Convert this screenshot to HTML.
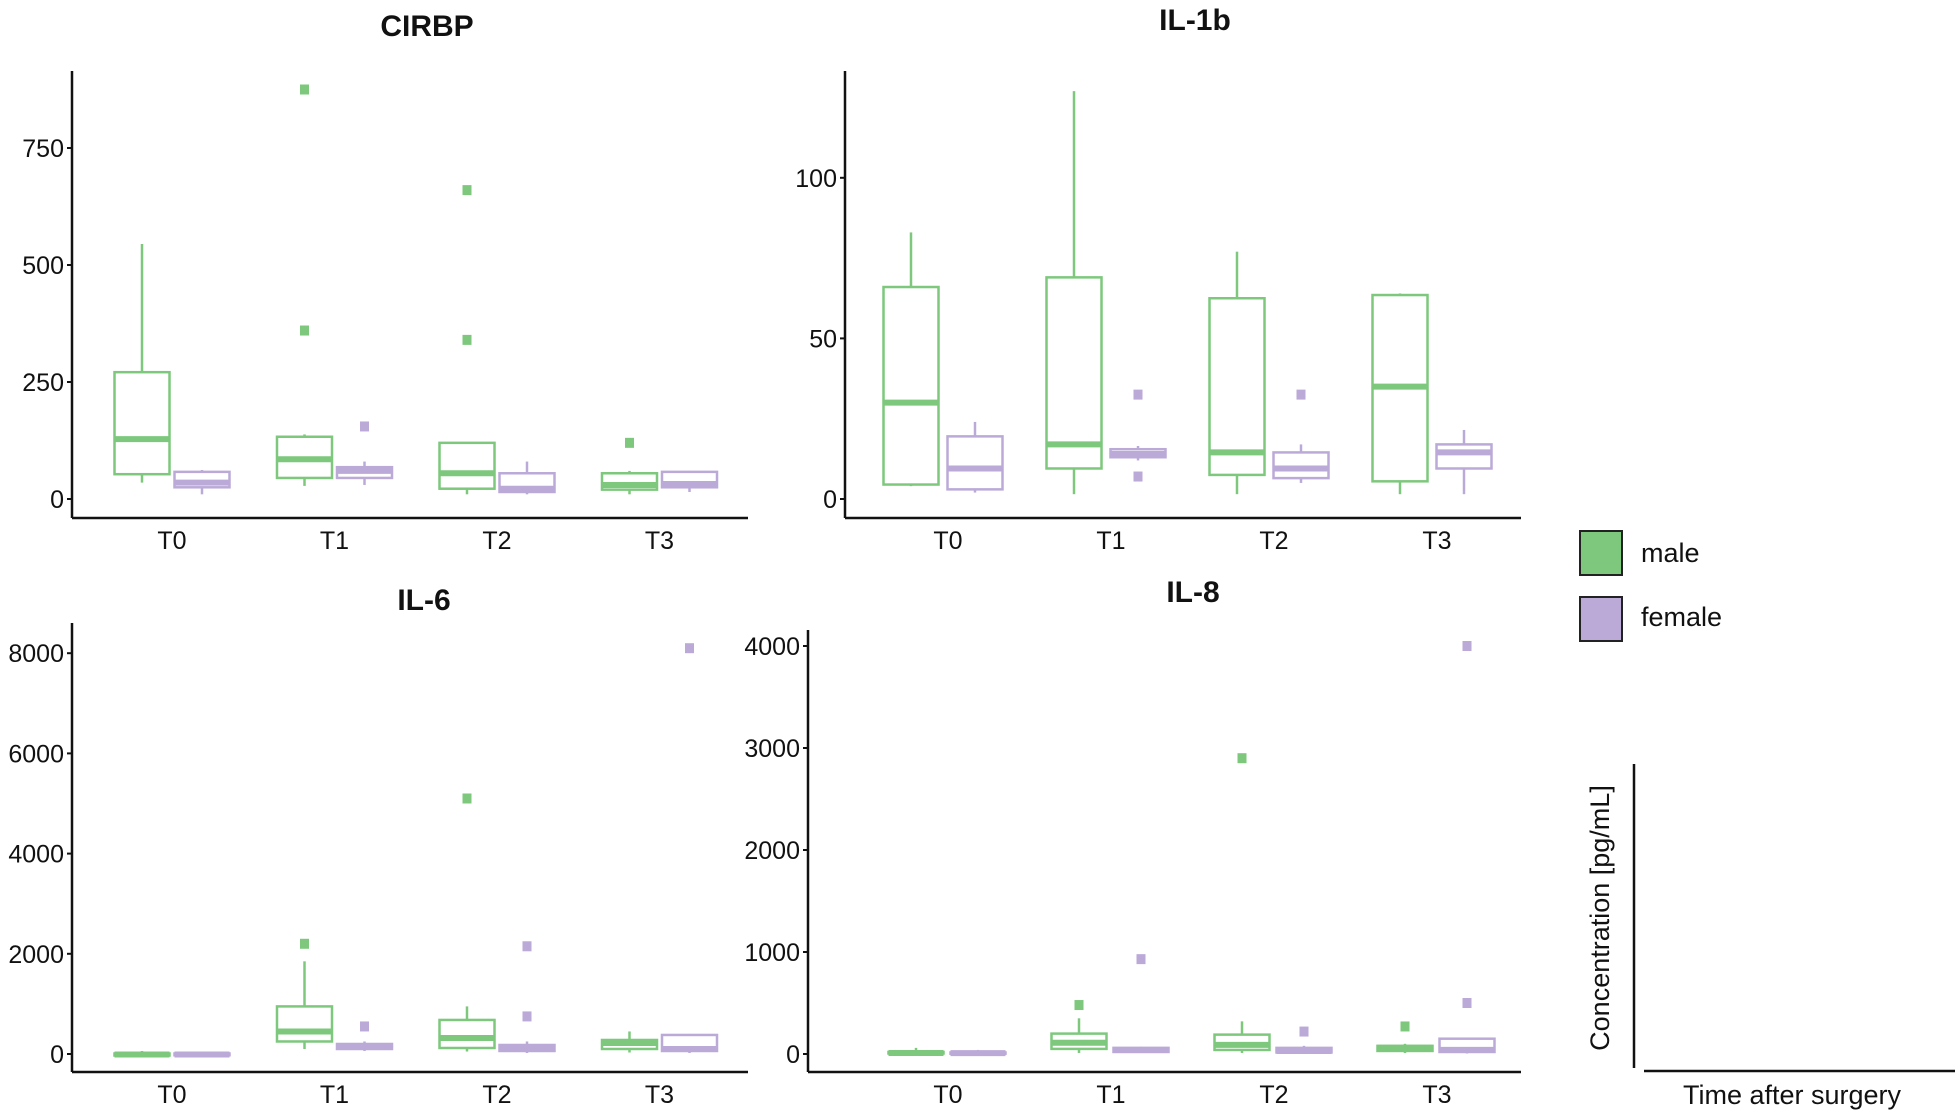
<!DOCTYPE html>
<html><head><meta charset="utf-8">
<style>
html,body{margin:0;padding:0;background:#fff;}
svg{display:block;font-family:"Liberation Sans",Arial,sans-serif;}
</style></head>
<body>
<svg id="fig" width="1955" height="1115" viewBox="0 0 1955 1115" xmlns="http://www.w3.org/2000/svg"></svg>
<script>
const categories = ["T0","T1","T2","T3"];
const groups = ["male","female"];
// [low whisker, q1, median, q3, high whisker]
const cirbpMale = [[35,53,128,271,545],[28,45,85,133,138],[10,22,55,120,120],[10,20,30,55,60]];
const cirbpFemale = [[10,25,35,58,62],[30,45,60,68,80],[10,15,22,55,80],[15,25,32,58,60]];
const cirbpMaleOut = [[],[360,875],[340,660],[120]];
const cirbpFemaleOut = [[],[155],[],[]];
const cirbpTicks = [0,250,500,750];

const il1bMale = [[4,4.5,30,66,83],[1.5,9.5,17,69,127],[1.5,7.5,14.5,62.5,77],[1.5,5.5,35,63.5,64]];
const il1bFemale = [[2,3,9.5,19.5,24],[12,13,14,15.5,16.5],[5,6.5,9.5,14.5,17],[1.5,9.5,14.5,17,21.5]];
const il1bMaleOut = [[],[],[],[]];
const il1bFemaleOut = [[],[32.5,7],[32.5],[]];
const il1bTicks = [0,50,100];

const il6Male = [[-50,-30,-10,10,60],[100,250,450,950,1850],[50,120,320,680,950],[30,100,220,280,450]];
const il6Female = [[-40,-25,-10,10,40],[60,100,150,200,250],[20,60,120,180,250],[20,60,100,380,400]];
const il6MaleOut = [[],[2200],[5100],[]];
const il6FemaleOut = [[],[550],[750,2150],[8100]];
const il6Ticks = [0,2000,4000,6000,8000];

const il8Male = [[0,5,10,20,60],[10,50,110,200,350],[10,40,90,190,320],[10,30,60,80,100]];
const il8Female = [[0,3,8,15,40],[10,20,40,60,70],[5,15,30,60,80],[5,20,40,150,160]];
const il8MaleOut = [[],[480],[2900],[270]];
const il8FemaleOut = [[],[930],[220],[500,4000]];
const il8Ticks = [0,1000,2000,3000,4000];

const NS = "http://www.w3.org/2000/svg";
const svg = document.getElementById("fig");
const GREEN = "#7dc87d", PURPLE = "#bbaad8";
function mk(tag, attrs, parent){
  const e = document.createElementNS(NS, tag);
  for (const k in attrs) e.setAttribute(k, attrs[k]);
  (parent||svg).appendChild(e);
  return e;
}

const panels = [
  {title:"CIRBP", tx:427, ty:36, ax:72, ar:748, top:71, bot:518, y0:499, ppu:117/250, x0:172, dx:162.5, mOff:-30, fOff:30, male:cirbpMale, female:cirbpFemale, mo:cirbpMaleOut, fo:cirbpFemaleOut, ticks:cirbpTicks, name:"cirbp"},
  {title:"IL-1b", tx:1195, ty:30, ax:845, ar:1521, top:71, bot:518, y0:499, ppu:160.6/50, x0:948, dx:163, mOff:-37, fOff:27, male:il1bMale, female:il1bFemale, mo:il1bMaleOut, fo:il1bFemaleOut, ticks:il1bTicks, name:"il-1b"},
  {title:"IL-6", tx:424, ty:610, ax:72, ar:748, top:623, bot:1072, y0:1054, ppu:100.2/2000, x0:172, dx:162.5, mOff:-30, fOff:30, male:il6Male, female:il6Female, mo:il6MaleOut, fo:il6FemaleOut, ticks:il6Ticks, name:"il-6"},
  {title:"IL-8", tx:1193, ty:602, ax:808, ar:1521, top:630, bot:1072, y0:1054, ppu:102/1000, x0:948, dx:163, mOff:-32, fOff:30, male:il8Male, female:il8Female, mo:il8MaleOut, fo:il8FemaleOut, ticks:il8Ticks, name:"il-8"}
];

panels.forEach(p => {
  const g = mk("g", {});
  
  
  const yS = v => p.y0 - v * p.ppu;
  const xS = i => p.x0 + i * p.dx;
  const t = mk("text", {x:p.tx, y:p.ty, "text-anchor":"middle", "font-size":30, "font-weight":"bold", fill:"#111"}, g);
  t.textContent = p.title;
  
  
  const ya = mk("line", {x1:p.ax, y1:p.top, x2:p.ax, y2:p.bot, stroke:"#111", "stroke-width":2.5}, g);
  
  
  const xa = mk("line", {x1:p.ax, y1:p.bot, x2:p.ar, y2:p.bot, stroke:"#111", "stroke-width":2.5}, g);
  
  
  p.ticks.forEach(v => {
    const y = yS(v);
    mk("line", {x1:p.ax-5, y1:y, x2:p.ax, y2:y, stroke:"#111", "stroke-width":2}, g);
    const tl = mk("text", {x:p.ax-8, y:y+9, "text-anchor":"end", "font-size":25, fill:"#111"}, g);
    tl.textContent = v;
    
    
  });
  categories.forEach((c, i) => {
    const cl = mk("text", {x:xS(i), y:p.bot+31, "text-anchor":"middle", "font-size":25, fill:"#111"}, g);
    cl.textContent = c;
    
    
    [[p.male, p.mo, GREEN, p.mOff, "male"], [p.female, p.fo, PURPLE, p.fOff, "female"]].forEach(([d, o, col, off, nm]) => {
      const s = d[i], cx = xS(i) + off, w = 55;
      const bg = mk("g", {}, g);
      
      
      mk("line", {x1:cx, y1:yS(s[0]), x2:cx, y2:yS(s[1]), stroke:col, "stroke-width":2.5}, bg);
      mk("line", {x1:cx, y1:yS(s[3]), x2:cx, y2:yS(s[4]), stroke:col, "stroke-width":2.5}, bg);
      mk("rect", {x:cx-w/2, y:yS(s[3]), width:w, height:Math.max(0.5, yS(s[1])-yS(s[3])), fill:"#fff", stroke:col, "stroke-width":2.5}, bg);
      mk("line", {x1:cx-w/2, y1:yS(s[2]), x2:cx+w/2, y2:yS(s[2]), stroke:col, "stroke-width":6}, bg);
      o[i].forEach(v => {
        const pt = mk("rect", {x:cx-4.5, y:yS(v)-5, width:9, height:10, fill:col}, bg);
        
        
      });
    });
  });
});

const lg = mk("g", {});


[["male", GREEN, 531, 562], ["female", PURPLE, 597, 626]].forEach(([n, col, y, ty]) => {
  const r = mk("rect", {x:1580, y:y, width:42, height:44, fill:col, stroke:"#222", "stroke-width":2}, lg);
  
  
  const t = mk("text", {x:1641, y:ty, "font-size":27, fill:"#111"}, lg);
  t.textContent = n;
  
  
});

const kv = mk("line", {x1:1634, y1:764, x2:1634, y2:1068, stroke:"#111", "stroke-width":2.5});


const kh = mk("line", {x1:1644, y1:1071, x2:1955, y2:1071, stroke:"#111", "stroke-width":2.5});


const ky = mk("text", {x:0, y:0, transform:"translate(1609,918) rotate(-90)", "text-anchor":"middle", "font-size":27, fill:"#111"});
ky.textContent = "Concentration [pg/mL]";


const kx = mk("text", {x:1792, y:1104, "text-anchor":"middle", "font-size":27, fill:"#111"});
kx.textContent = "Time after surgery";


</script>
</body></html>
